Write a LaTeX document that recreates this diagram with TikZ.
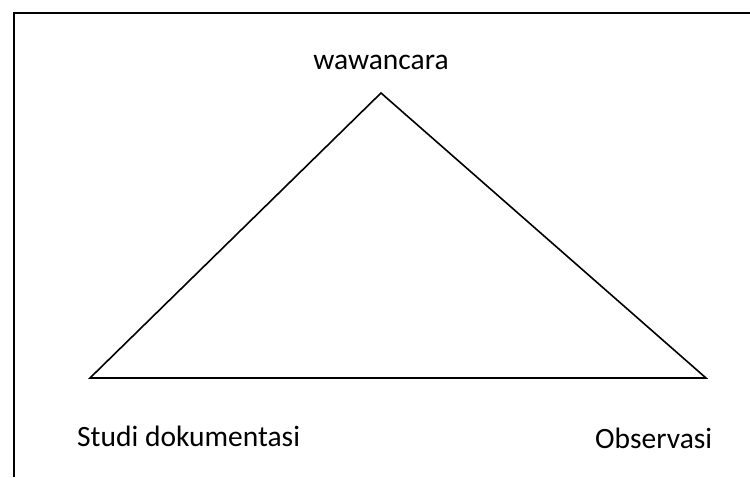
\documentclass[tikz,border=0pt]{standalone}
\usepackage{fontspec}
\setmainfont{Carlito}
\begin{document}
\begin{tikzpicture}[x=1pt,y=1pt,
  frame/.style={line width=2.6pt},
  tri/.style={line width=1.6pt, line join=miter},
  lbl/.style={font=\fontsize{29.5}{34}\selectfont, inner sep=0pt}]
\useasboundingbox (0,0) rectangle (750,477);
\draw[frame] (14,0) -- (14,464) -- (750,464);
\coordinate (A) at (381,384);
\coordinate (B) at (90,99);
\coordinate (C) at (706,99);
\draw[tri] (A) -- (B) -- (C) -- cycle;
\node[lbl] (w) at (381,415) {wawancara};
\node[lbl, anchor=west] (s) at (77,41) {Studi dokumentasi};
\node[lbl, anchor=west] (o) at (595,39) {Observasi};
\end{tikzpicture}
\end{document}
